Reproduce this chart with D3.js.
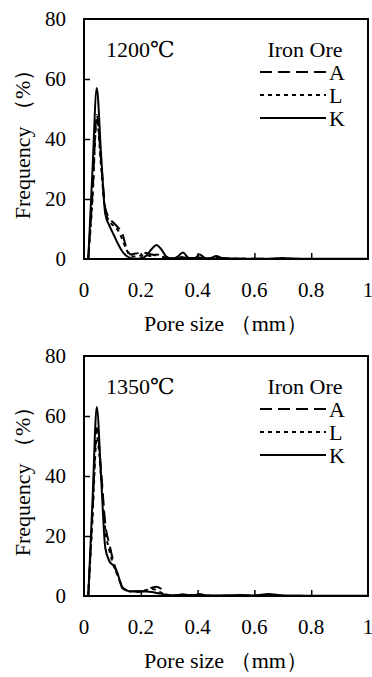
<!DOCTYPE html>
<html>
<head>
<meta charset="utf-8">
<script src="https://cdn.jsdelivr.net/npm/d3@7"></script>
<style>
  html, body { margin: 0; padding: 0; background: #fff; }
  svg { display: block; }
</style>
</head>
<body>
<svg id="chart" width="372" height="677"></svg>
<script>
// Pore size grid (mm) shared by every series
const poreSize = [0.015, 0.03, 0.045, 0.06, 0.075, 0.09, 0.105, 0.12, 0.135, 0.15, 0.165, 0.18,
  0.2, 0.22, 0.24, 0.255, 0.27, 0.29, 0.31, 0.33, 0.348, 0.37, 0.39, 0.407, 0.43, 0.45, 0.465,
  0.49, 0.55, 0.6, 0.65, 0.7, 0.75, 0.8, 0.9, 1.0];

// Frequency (%) at 1200℃
const freq1200A = [0, 22, 48, 33, 17, 13.5, 12, 10.5, 8.5, 3.5, 1.5, 1.8,
  2, 2, 1.5, 1.2, 0.8, 0.3, 0.2, 0.3, 0.6, 0.2, 0.2, 0.5, 0.2, 0.3, 0.5,
  0.2, 0.1, 0.1, 0.1, 0.1, 0.1, 0, 0, 0];
const freq1200L = [0, 20, 47, 31, 16, 12.5, 11, 9.5, 6.5, 3, 1, 0.8,
  1.2, 1.2, 1, 1.5, 1.2, 0.3, 0.2, 0.2, 0.8, 0.2, 0.2, 0.6, 0.2, 0.2, 0.3,
  0.1, 0.1, 0, 0, 0.1, 0, 0, 0, 0];
const freq1200K = [0, 30, 57, 35, 15, 11, 8, 5, 2.5, 1, 0.3, 0.1,
  0.2, 1.2, 3.5, 4.7, 3.5, 0.8, 0.1, 0.8, 2.2, 0.3, 0.3, 1.5, 0.2, 0.4, 1,
  0.3, 0.1, 0.1, 0.1, 0.3, 0.1, 0.1, 0.1, 0.1];

// Frequency (%) at 1350℃
const freq1350A = [0, 28, 56, 42, 24, 17, 11, 7, 3, 2, 1.6, 1.5,
  1.5, 2, 2.8, 3.1, 2.5, 0.5, 0.2, 0.2, 0.3, 0.2, 0.2, 0.3, 0.1, 0.1, 0.1,
  0.1, 0.1, 0.1, 0.2, 0.1, 0.1, 0, 0, 0];
const freq1350L = [0, 26, 53, 40, 22, 15, 10, 6.5, 2.8, 1.8, 1.5, 1.4,
  1.5, 2, 2.3, 2, 1.2, 0.3, 0.2, 0.2, 0.3, 0.2, 0.2, 0.3, 0.1, 0.1, 0.1,
  0.1, 0.1, 0.1, 0.1, 0.1, 0, 0, 0, 0];
const freq1350K = [0, 32, 63, 40, 16, 11.5, 10, 7, 2.6, 1.8, 1.6, 1.6,
  1.5, 1.5, 1.3, 1, 0.8, 0.3, 0.2, 0.3, 0.6, 0.3, 0.3, 0.7, 0.2, 0.2, 0.2,
  0.2, 0.3, 0.2, 0.7, 0.2, 0.1, 0.1, 0.1, 0.1];

const xTicks = [0, 0.2, 0.4, 0.6, 0.8, 1];
const xTickLabels = ["0", "0.2", "0.4", "0.6", "0.8", "1"];
const yTicks = [0, 20, 40, 60, 80];
const oreNames = ["A", "L", "K"];
const temperatures = ["1200℃", "1350℃"];

const dashes = { A: "12,6", L: "4,4", K: null };
const serif = "'Liberation Serif', 'DejaVu Serif', serif";

const panels = [
  { title: temperatures[0], top: 19, series: { A: freq1200A, L: freq1200L, K: freq1200K } },
  { title: temperatures[1], top: 356, series: { A: freq1350A, L: freq1350L, K: freq1350K } }
];

const svg = d3.select("#chart");
const left = 84, right = 368, plotH = 240;
const x = d3.scaleLinear().domain([0, 1]).range([left, right]);

function label(sel, size) {
  return sel.attr("font-family", serif).attr("font-size", size).attr("fill", "#000");
}

panels.forEach((p, pi) => {
  const y = d3.scaleLinear().domain([0, 80]).range([p.top + plotH, p.top]);
  const g = svg.append("g");

  const clipId = "clip" + pi;
  g.append("clipPath").attr("id", clipId)
    .append("rect").attr("x", left).attr("y", p.top).attr("width", right - left).attr("height", plotH);

  // curves
  const line = d3.line()
    .x(d => x(d[0])).y(d => y(d[1]))
    .curve(d3.curveMonotoneX);
  oreNames.forEach(name => {
    const pts = poreSize.map((s, i) => [s, p.series[name][i]]);
    g.append("path")
      .attr("clip-path", `url(#${clipId})`)
      .attr("d", line(pts))
      .attr("fill", "none")
      .attr("stroke", "#000")
      .attr("stroke-width", 2)
      .attr("stroke-dasharray", dashes[name]);
  });

  // frame
  g.append("rect")
    .attr("x", left).attr("y", p.top).attr("width", right - left).attr("height", plotH)
    .attr("fill", "none").attr("stroke", "#000").attr("stroke-width", 2);

  // y axis ticks and labels
  const yAxis = d3.axisRight(y).tickValues(yTicks.slice(1, 4)).tickSize(6).tickFormat("");
  g.append("g").attr("transform", `translate(${left},0)`).call(yAxis)
    .call(a => a.select(".domain").remove())
    .selectAll("line").attr("stroke-width", 1.5);
  g.selectAll(".ylab").data(yTicks).join("text")
    .attr("x", left - 18).attr("y", d => y(d))
    .attr("dy", "0.35em").attr("text-anchor", "end")
    .call(label, 21).text(d => d);

  // x axis ticks and labels
  const xAxis = d3.axisTop(x).tickValues(xTicks.slice(1, 5)).tickSize(6).tickFormat("");
  g.append("g").attr("transform", `translate(0,${y(0)})`).call(xAxis)
    .call(a => a.select(".domain").remove())
    .selectAll("line").attr("stroke-width", 1.5);
  g.selectAll(".xlab").data(xTicks).join("text")
    .attr("x", d => x(d)).attr("y", y(0) + 38)
    .attr("text-anchor", "middle")
    .call(label, 21)
    .text((d, i) => xTickLabels[i]);

  // axis titles
  g.append("text")
    .attr("x", (left + right) / 2).attr("y", y(0) + 72)
    .attr("text-anchor", "middle").call(label, 22)
    .text("Pore size （mm）");
  g.append("text")
    .attr("transform", `translate(30,${p.top + plotH / 2}) rotate(-90)`)
    .attr("text-anchor", "middle").call(label, 22)
    .text("Frequency （%）");

  // temperature label
  g.append("text").attr("x", 106).attr("y", p.top + 38)
    .call(label, 22).text(p.title);

  // legend
  g.append("text").attr("x", 305).attr("y", p.top + 38)
    .attr("text-anchor", "middle").call(label, 22).text("Iron Ore");
  oreNames.forEach((name, i) => {
    const ly = p.top + 53 + i * 23;
    g.append("line")
      .attr("x1", 260).attr("x2", 326).attr("y1", ly).attr("y2", ly)
      .attr("stroke", "#000").attr("stroke-width", 2)
      .attr("stroke-dasharray", dashes[name]);
    g.append("text").attr("x", 329).attr("y", ly).attr("dy", "0.35em")
      .call(label, 22).text(name);
  });
});
</script>
</body>
</html>
